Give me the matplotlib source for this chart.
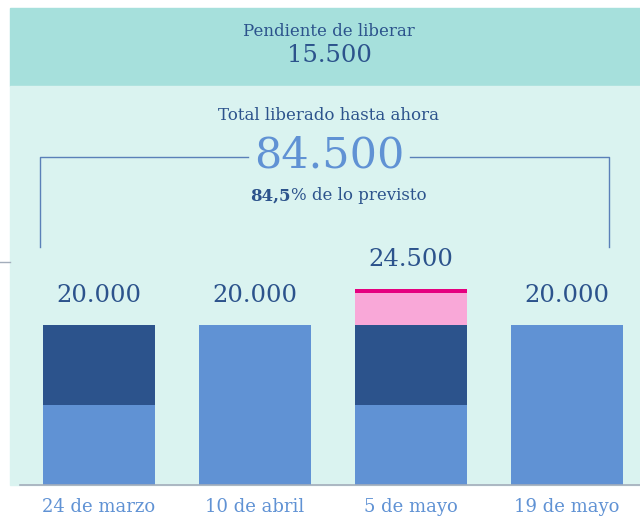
import matplotlib
matplotlib.use("Agg")
import matplotlib.pyplot as plt
from matplotlib.patches import Rectangle
from matplotlib.lines import Line2D

# Datos
categorias = ['24 de marzo', '10 de abril', '5 de mayo', '19 de mayo']
tramo_1 = [10000, 20000, 10000, 20000]
tramo_2 = [10000, 0, 10000, 0]
tramo_3 = [0, 0, 4000, 0]
tramo_4 = [0, 0, 500, 0]
etiquetas = ['20.000', '20.000', '24.500', '20.000']

pendiente = '15.500'
total = '84.500'
porcentaje = '84,5'

azul_claro = '#6092d4'
azul_oscuro = '#2c538c'
rosa = '#f9a8d8'
magenta = '#e5007f'
fondo_top = '#a6e0dc'
fondo = '#daf3f0'

plt.rcParams['font.family'] = ['DejaVu Serif']

W, H = 640, 518
fig = plt.figure(figsize=(W / 100, H / 100), dpi=100)


def fx(px):
    return px / W


def fy(py):
    return 1 - py / H


# fondos
fig.patches.append(Rectangle((fx(10), fy(86)), fx(630), 78 / H,
                             transform=fig.transFigure, color=fondo_top, zorder=-5))
fig.patches.append(Rectangle((fx(10), fy(485)), fx(630), 399 / H,
                             transform=fig.transFigure, color=fondo, zorder=-5))
fig.lines.append(Line2D([fx(20), fx(640)], [fy(485), fy(485)], transform=fig.transFigure,
                        color='#a3adbb', lw=1.2, zorder=5))
fig.lines.append(Line2D([0, fx(10)], [fy(262), fy(262)], transform=fig.transFigure,
                        color='#a3adbb', lw=1))

# textos de cabecera
cx = fx(329)
fig.text(cx, fy(32), 'Pendiente de liberar', ha='center', va='center',
         color=azul_oscuro, fontsize=12)
fig.text(cx, fy(56), pendiente, ha='center', va='center',
         color=azul_oscuro, fontsize=17.5)
fig.text(cx, fy(116), 'Total liberado hasta ahora', ha='center', va='center',
         color=azul_oscuro, fontsize=12)
fig.text(cx, fy(155), total, ha='center', va='center',
         color=azul_claro, fontsize=31)
fig.text(fx(291), fy(196), porcentaje, ha='right', va='center',
         color=azul_oscuro, fontsize=12, fontweight='bold')
fig.text(fx(291), fy(196), '% de lo previsto', ha='left', va='center',
         color=azul_oscuro, fontsize=12)

# corchete
col_linea = '#5a80b8'
for xs, ys in [([40, 40, 248], [247, 157, 157]), ([410, 609, 609], [157, 157, 247])]:
    fig.lines.append(Line2D([fx(x) for x in xs], [fy(y) for y in ys],
                            transform=fig.transFigure, color=col_linea, lw=1))

# barras
ax = fig.add_axes([fx(10), fy(485), fx(630), 399 / H])
ax.set_facecolor('none')
x = list(range(len(categorias)))
ancho = 0.718
abajo = [0] * 4
for vals, col in [(tramo_1, azul_claro), (tramo_2, azul_oscuro),
                  (tramo_3, rosa), (tramo_4, magenta)]:
    ax.bar(x, vals, bottom=abajo, width=ancho, color=col, linewidth=0)
    abajo = [a + v for a, v in zip(abajo, vals)]

for xi, tot, lab in zip(x, abajo, etiquetas):
    ax.annotate(lab, (xi, tot), xytext=(0, 13), textcoords='offset points',
                ha='center', va='bottom', color=azul_oscuro, fontsize=17.5)

ax.set_xlim(-0.5705, -0.5705 + 630 / 156)
ax.set_ylim(0, 49875)
ax.set_xticks(x)
ax.set_xticklabels(categorias, color=azul_claro, fontsize=13)
ax.tick_params(axis='x', length=0, pad=9)
ax.set_yticks([])
for s in ax.spines.values():
    s.set_visible(False)

fig.savefig('out.png', dpi=100)
